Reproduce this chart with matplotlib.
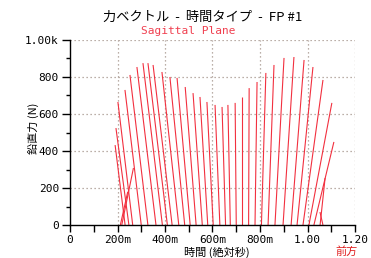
import matplotlib
matplotlib.use("Agg")
import matplotlib.pyplot as plt
from matplotlib.ticker import MultipleLocator

# --- data (butterfly / force vector plot) ---
time_s = [0.212, 0.218, 0.232, 0.248, 0.264, 0.300, 0.328, 0.362, 0.389, 0.410,
          0.430, 0.458, 0.483, 0.506, 0.531, 0.557, 0.580, 0.603, 0.631, 0.655,
          0.675, 0.700, 0.724, 0.752, 0.779, 0.806, 0.834, 0.863, 0.897, 0.931,
          0.956, 0.981, 1.006, 1.027, 1.053, 1.065]
fz_N = [180, 308, 432, 524, 665, 730, 811, 854, 875, 875,
        865, 827, 800, 795, 746, 713, 692, 665, 649, 638,
        649, 660, 692, 740, 773, 822, 865, 903, 908, 892,
        854, 784, 660, 449, 254, 70]
fy_N = [40, 63, -54, -70, -80, -88, -97, -103, -105, -105,
        -103, -91, -80, -71, -59, -50, -42, -34, -26, -19,
        -13, -6, 0, 3, 11, 24, 32, 49, 59, 70,
        86, 108, 124, 108, 27, -16]

x_ticks = [0.0, 0.2, 0.4, 0.6, 0.8, 1.0, 1.2]
x_tick_labels = ["0", "200m", "400m", "600m", "800m", "1.00", "1.20"]
y_ticks = [0, 200, 400, 600, 800, 1000]
y_tick_labels = ["0", "200", "400", "600", "800", "1.00k"]

title = "力ベクトル  -  時間タイプ  -  FP #1"
subtitle = "Sagittal Plane"
xlabel = "時間 (絶対秒)"
ylabel = "鉛直力 (N)"
direction_label = "前方"

# --- figure ---
W, H = 371, 258
fig = plt.figure(figsize=(W / 100, H / 100), dpi=100)
ax_l, ax_r, ax_b, ax_t = 70, 355, 33, 218
ax = fig.add_axes([ax_l / W, ax_b / H, (ax_r - ax_l) / W, (ax_t - ax_b) / H])

xmin, xmax, ymin, ymax = 0.0, 1.2, 0.0, 1000.0
ax.set_xlim(xmin, xmax)
ax.set_ylim(ymin, ymax)

# isotropic vector scale: horizontal seconds per newton (same pixel scale as vertical)
px_per_s = (ax_r - ax_l) / (xmax - xmin)
px_per_N = (ax_t - ax_b) / (ymax - ymin)
s_per_N = px_per_N / px_per_s

red = "#f2303f"
for t, fz, fy in zip(time_s, fz_N, fy_N):
    ax.plot([t, t + fy * s_per_N], [0, fz], color=red, lw=0.8, solid_capstyle="butt")

grid_c = "#a5958c"
for gx in x_ticks[1:]:
    ax.axvline(gx, color=grid_c, lw=0.9, ls=(0, (1, 2.2)), zorder=0)
for gy in y_ticks[1:]:
    ax.axhline(gy, color=grid_c, lw=0.9, ls=(0, (1, 2.2)), zorder=0)

for s in ["top", "right"]:
    ax.spines[s].set_visible(False)
for s in ["left", "bottom"]:
    ax.spines[s].set_color("black")
    ax.spines[s].set_linewidth(1.0)

mono = "DejaVu Sans Mono"
ax.set_xticks(x_ticks)
ax.set_xticklabels(x_tick_labels, family=mono, fontsize=8)
ax.set_yticks(y_ticks)
ax.set_yticklabels(y_tick_labels, family=mono, fontsize=8)
ax.xaxis.set_minor_locator(MultipleLocator(0.1))
ax.yaxis.set_minor_locator(MultipleLocator(100))
ax.tick_params(axis="x", which="major", direction="out", length=5, width=1, pad=2)
ax.tick_params(axis="x", which="minor", direction="out", length=5, width=1)
ax.tick_params(axis="y", which="major", direction="out", length=6, width=1, pad=2)
ax.tick_params(axis="y", which="minor", direction="out", length=3, width=1)

cjk = ["Noto Sans CJK JP", "DejaVu Sans"]
fig.text(203 / W, 1 - 17 / H, title, ha="center", va="center", fontsize=9.5,
         family=cjk, color="black")
fig.text(188 / W, 1 - 31 / H, subtitle, ha="center", va="center", fontsize=8,
         family=mono, color="#f04050")
fig.text(217 / W, 1 - 252 / H, xlabel, ha="center", va="center", fontsize=8,
         family=cjk, color="black")
fig.text(347 / W, 1 - 252 / H, direction_label, ha="center", va="center", fontsize=8,
         family=cjk, color="#e02020")
fig.text(33 / W, 1 - 128 / H, ylabel, ha="center", va="center", fontsize=8,
         family=cjk, color="black", rotation=90)

fig.savefig("out.png", dpi=100, facecolor="white")
